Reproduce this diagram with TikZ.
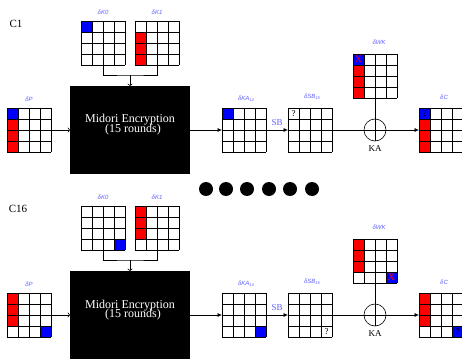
\documentclass[tikz,border=0pt]{standalone}
\usepackage{fontspec}
\setmainfont{Liberation Serif}
\setsansfont{Liberation Sans}
\usetikzlibrary{calc,arrows.meta}
\definecolor{lblue}{RGB}{95,95,255}
\tikzset{
 gridnode/.style={minimum size=44pt, inner sep=0pt, outer sep=0pt, anchor=north west},
 gl/.style={line width=0.8pt, black},
 lbl/.style={text=lblue, font=\sffamily\itshape\fontsize{6}{7}\selectfont, inner sep=0pt},
 enc/.style={fill=black, minimum width=120pt, minimum height=88pt, inner sep=0pt, outer sep=0pt, anchor=north west},
 flow/.style={line width=0.6pt, -{Latex[length=4.5pt,width=4pt]}},
 feed/.style={line width=0.6pt, -{To[length=2.5pt,width=5pt]}},
 conn/.style={line width=0.6pt},
 bigdot/.style={circle, fill=black, minimum size=14pt, inner sep=0pt},
 xorc/.style={circle, draw, line width=0.6pt, minimum size=22pt, inner sep=0pt, outer sep=0pt},
 enctext/.style={text=white, font=\fontsize{12}{12}\selectfont, inner sep=0pt, anchor=base},
 sblbl/.style={text=lblue, font=\fontsize{9}{9}\selectfont, inner sep=0pt},
 kalbl/.style={font=\fontsize{9}{9}\selectfont, inner sep=0pt},
 cellq/.style={font=\fontsize{9}{9}\selectfont, inner sep=0pt},
 cellx/.style={text=red, font=\fontsize{10}{10}\selectfont, inner sep=0pt},
 panellbl/.style={font=\fontsize{11}{11}\selectfont, inner sep=0pt},
}
\newcommand\cellf[4]{\fill[#4] ($(#1.north west)+(#2*11,#3*11)$) rectangle ++(11,11);}
\newcommand\cellq[4]{\node[#4] at ($(#1.north west)+(#2*11+5.5,#3*11+5.5)$) {?};}
\newcommand\cellx[3]{\node[cellx] at ($(#1.north west)+(#2*11+5.5,#3*11+5.5)$) {X};}
\newcommand\glines[1]{\foreach \i in {0,11,22,33,44}{\draw[gl] ($(#1.north west)+(\i,0)$) -- ++(0,44); \draw[gl] ($(#1.north west)+(0,\i)$) -- ++(44,0);}}
\newcommand\panelnodes[2]{%
 \node[gridnode] (K0#1) at (81,21+#2) {};
 \node[gridnode] (K1#1) at (135,21+#2) {};
 \node[gridnode] (P#1) at (7,108+#2) {};
 \node[gridnode] (KA#1) at (222,108+#2) {};
 \node[gridnode] (SB#1) at (288,108+#2) {};
 \node[gridnode] (WK#1) at (353,54+#2) {};
 \node[gridnode] (C#1) at (419,108+#2) {};
 \node[enc] (E#1) at (70,86+#2) {};
 \node[xorc] (X#1) at (375,130+#2) {};
 \coordinate (J#1) at (130,75+#2);
}
\newcommand\paneldraw[2]{%
 \foreach \g in {K0,K1,P,KA,SB,WK,C}{\glines{\g#1}}
 \node[lbl] at ($(K0#1.north)+(0,-9)$) {δK0};
 \node[lbl] at ($(K1#1.north)+(0,-9)$) {δK1};
 \node[lbl] at ($(P#1.north)+(0,-9)$) {δP};
 \node[lbl] at ($(KA#1.north)+(2,-9)$) {δKA\raisebox{-1pt}{\fontsize{4}{4}\selectfont 14}};
 \node[lbl] at ($(SB#1.north)+(2,-11)$) {δSB\raisebox{-1pt}{\fontsize{4}{4}\selectfont 15}};
 \node[lbl] at ($(WK#1.north)+(4,-12)$) {δWK};
 \node[lbl] at ($(C#1.north)+(3,-11)$) {δC};
 \node[enctext] at (130,123+#2) {Midori Encryption};
 \node[enctext] at (133,132+#2) {(15 rounds)};
 \draw[conn] (K0#1.south) |- (J#1) -| (K1#1.south);
 \draw[feed] (J#1) -- (E#1.north);
 \draw[feed] (P#1.east) -- (E#1.west);
 \draw[flow] (E#1.east) -- (KA#1.west);
 \draw[flow] (KA#1.east) -- node[sblbl, above=4pt] {SB} (SB#1.west);
 \draw[conn] (SB#1.east) -- (X#1.west);
 \draw[flow] (X#1.east) -- (C#1.west);
 \draw[conn] (WK#1.south) -- (X#1.north);
 \draw[conn] (X#1.north) -- (X#1.south) (X#1.west) -- (X#1.east);
 \node[kalbl] at ($(X#1.south)+(0,8)$) {KA};
}
\begin{document}
\begin{tikzpicture}[x=1pt,y=-1pt]
\useasboundingbox (0,0) rectangle (462,358);
% panel 1
\panelnodes{a}{0}
\cellf{K0a}{0}{0}{blue}
\foreach \r in {1,2,3}{\cellf{K1a}{0}{\r}{red}\cellf{Pa}{0}{\r}{red}\cellf{WKa}{0}{\r}{red}\cellf{Ca}{0}{\r}{red}}
\cellf{Pa}{0}{0}{blue}
\cellf{KAa}{0}{0}{blue}
\cellf{WKa}{0}{0}{blue}
\cellf{Ca}{0}{0}{blue}
\paneldraw{a}{0}
\cellq{SBa}{0}{0}{cellq}
\cellx{WKa}{0}{0}
\cellq{Ca}{0}{0}{cellq}
\node[panellbl] (c1) at (16,24) {C1};
% dots
\foreach \x [count=\k] in {206,226,247,269,290,312}{\node[bigdot] (dot\k) at (\x,189) {};}
% panel 2
\panelnodes{b}{185}
\cellf{K0b}{3}{3}{blue}
\foreach \r in {0,1,2}{\cellf{K1b}{0}{\r}{red}\cellf{Pb}{0}{\r}{red}\cellf{WKb}{0}{\r}{red}\cellf{Cb}{0}{\r}{red}}
\cellf{Pb}{3}{3}{blue}
\cellf{KAb}{3}{3}{blue}
\cellf{WKb}{3}{3}{blue}
\cellf{Cb}{3}{3}{blue}
\paneldraw{b}{185}
\cellq{SBb}{3}{3}{cellq}
\cellx{WKb}{3}{3}
\cellq{Cb}{3}{3}{cellq}
\node[panellbl] (c16) at (18,209) {C16};
\end{tikzpicture}
\end{document}
